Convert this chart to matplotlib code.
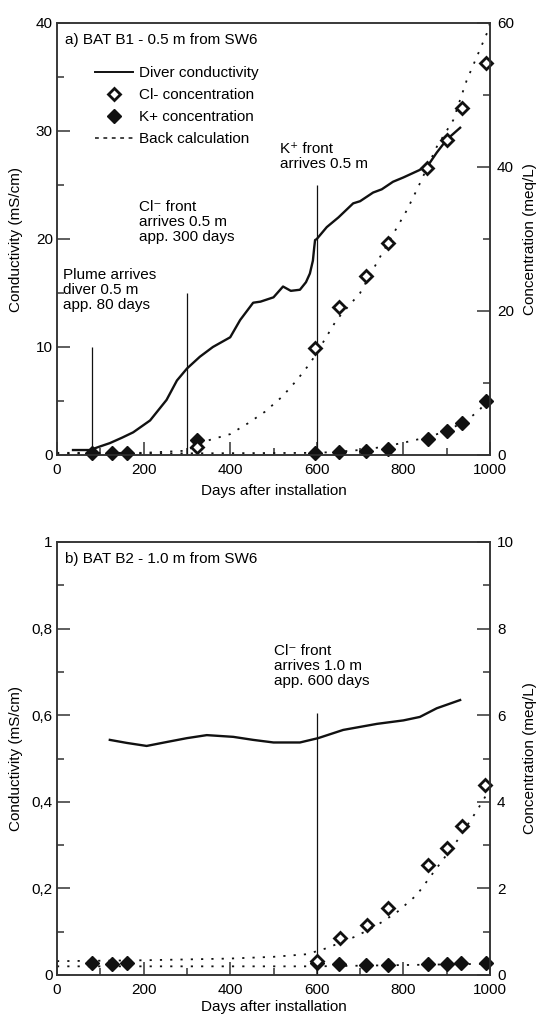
import matplotlib
matplotlib.use("Agg")
import matplotlib.pyplot as plt
from matplotlib.lines import Line2D
from matplotlib.ticker import MultipleLocator, FuncFormatter

plt.rcParams['font.family'] = ['Liberation Sans', 'DejaVu Sans']
plt.rcParams['font.size'] = 11

# ---- panel a) BAT B1 - 0.5 m ----
a_cond_days = [37, 60, 76, 100, 122, 150, 176, 215, 253, 277, 300, 330, 360, 400, 423, 453,
               470, 485, 500, 522, 540, 561, 575, 584, 591, 594, 596, 600, 623, 650, 684, 700,
               730, 750, 776, 800, 838, 860, 877, 900, 931]
a_cond = [0.46, 0.46, 0.46, 0.8, 1.1, 1.6, 2.1, 3.2, 5.1, 6.9, 8.0, 9.1, 10.0, 10.9, 12.5, 14.1,
          14.2, 14.4, 14.6, 15.6, 15.2, 15.3, 16.0, 16.8, 18.0, 19.2, 19.9, 20.0, 21.1, 22.0, 23.3, 23.5,
          24.3, 24.6, 25.3, 25.7, 26.4, 27.0, 28.0, 29.2, 30.3]

a_cl_days = [323, 596, 651, 714, 765, 855, 900, 935, 991]
a_cl = [1.1, 14.9, 20.6, 24.9, 29.4, 39.8, 43.7, 48.2, 54.4]

a_k_days = [80, 127, 161, 323, 596, 651, 714, 765, 857, 900, 935, 991]
a_k = [0.3, 0.3, 0.3, 2.1, 0.3, 0.4, 0.6, 0.9, 2.2, 3.3, 4.4, 7.5]

a_clbc_days = [0, 100, 200, 300, 330, 400, 441, 480, 520, 554, 584, 600, 646, 700, 746, 808,
               834, 877, 915, 946, 993, 1000]
a_clbc = [0.3, 0.3, 0.3, 0.6, 1.7, 2.9, 4.4, 6.0, 8.1, 10.4, 12.7, 14.2, 18.8, 22.5, 27.5, 34,
          37.2, 42.8, 46.5, 52, 58.6, 60]

a_kbc_days = [0, 200, 400, 600, 650, 700, 750, 800, 850, 900, 950, 975, 1000]
a_kbc = [0.2, 0.2, 0.25, 0.3, 0.45, 0.7, 1.1, 1.7, 2.4, 3.3, 5.0, 6.2, 8.0]

a_marks_days = [80, 300, 600]
a_marks_top = [10, 15, 25]

# ---- panel b) BAT B2 - 1.0 m ----
b_cond_days = [122, 161, 207, 253, 300, 346, 407, 453, 500, 561, 603, 661, 700, 739, 800, 838, 877, 931]
b_cond = [0.543, 0.536, 0.529, 0.538, 0.547, 0.554, 0.55, 0.543, 0.537, 0.537, 0.547, 0.566,
          0.573, 0.58, 0.588, 0.596, 0.616, 0.635]

b_cl_days = [600, 653, 716, 765, 857, 900, 935, 988]
b_cl = [0.33, 0.85, 1.15, 1.55, 2.54, 2.93, 3.44, 4.39]

b_k_days = [80, 127, 161, 600, 651, 714, 765, 857, 900, 933, 991]
b_k = [0.28, 0.26, 0.28, 0.28, 0.25, 0.22, 0.22, 0.25, 0.25, 0.28, 0.27]

b_clbc_days = [0, 200, 400, 500, 577, 623, 692, 739, 785, 831, 868, 924, 970, 1000]
b_clbc = [0.32, 0.34, 0.38, 0.42, 0.48, 0.62, 0.9, 1.15, 1.45, 1.85, 2.35, 3.1, 3.8, 4.3]

b_kbc_days = [0, 600, 1000]
b_kbc = [0.2, 0.2, 0.26]

b_marks_days = [600]
b_marks_top = [0.605]

ink = '#111111'
dot = (0, (1.2, 4.5))
fs = 11
W, H = 537, 1016

fig = plt.figure(figsize=(W / 100, H / 100), dpi=100)


def style_axes(ax, ax2, ymax, ymaj, ymin, y2max, y2maj, y2min, yfmt):
    ax.set_xlim(0, 1000)
    ax.set_ylim(0, ymax)
    ax2.set_ylim(0, y2max)
    ax.xaxis.set_major_locator(MultipleLocator(200))
    ax.xaxis.set_minor_locator(MultipleLocator(100))
    ax.yaxis.set_major_locator(MultipleLocator(ymaj))
    ax.yaxis.set_minor_locator(MultipleLocator(ymin))
    ax2.yaxis.set_major_locator(MultipleLocator(y2maj))
    ax2.yaxis.set_minor_locator(MultipleLocator(y2min))
    if yfmt is not None:
        ax.yaxis.set_major_formatter(FuncFormatter(yfmt))
    for a in (ax, ax2):
        for s in a.spines.values():
            s.set_linewidth(1.1)
            s.set_color('#333333')
    ax.tick_params(axis='both', which='both', direction='in', width=1.1, color='#333333',
                   top=False, right=False, labelsize=fs)
    ax.tick_params(which='major', length=9.5)
    ax.tick_params(which='minor', length=5)
    ax.tick_params(axis='y', pad=3)
    ax.tick_params(axis='x', pad=6)
    ax2.tick_params(axis='y', which='both', direction='in', width=1.1, color='#333333', labelsize=fs, pad=5)
    ax2.tick_params(which='major', length=9.5)
    ax2.tick_params(which='minor', length=5)
    ax.set_xlabel('Days after installation', fontsize=fs)
    ax.set_ylabel('Conductivity (mS/cm)', fontsize=fs)
    ax2.set_ylabel('Concentration (meq/L)', fontsize=fs)
    ax.yaxis.set_label_coords(-0.079, 0.5)
    ax2.yaxis.set_label_coords(1.076, 0.5)


def comma(v, pos):
    if abs(v - round(v)) < 1e-9:
        return '%d' % round(v)
    return ('%.1f' % v).replace('.', ',')


# panel a
ax1 = fig.add_axes([57 / W, 1 - 455 / H, 433 / W, 432 / H])
ax2 = ax1.twinx()
style_axes(ax1, ax2, 40, 10, 5, 60, 20, 10, None)
ax1.xaxis.set_label_coords(0.5, -0.066)

ax1.vlines(a_marks_days, 0, a_marks_top, color=ink, lw=0.9)
ax1.plot(a_cond_days, a_cond, color=ink, lw=1.7)
ax2.plot(a_clbc_days, a_clbc, color=ink, lw=1.3, ls=dot)
ax2.plot(a_kbc_days, a_kbc, color=ink, lw=1.3, ls=dot)
ax2.plot(a_k_days, a_k, ls='none', marker='D', ms=7.5, color=ink, clip_on=False)
ax2.plot(a_cl_days, a_cl, ls='none', marker='D', ms=6.5, mfc='white', mec=ink, mew=2, clip_on=False)

ax1.text(0.018, 0.977, 'a) BAT B1 - 0.5 m from SW6', transform=ax1.transAxes, ha='left', va='top', fontsize=fs)
ax1.text(14, 17.3, 'Plume arrives\ndiver 0.5 m\napp. 80 days', ha='left', va='top', fontsize=fs, linespacing=1.1)
ax1.text(190, 23.6, 'Cl\u207b front\narrives 0.5 m\napp. 300 days', ha='left', va='top', fontsize=fs, linespacing=1.1)
ax1.text(515, 29.0, 'K\u207a front\narrives 0.5 m', ha='left', va='top', fontsize=fs, linespacing=1.1)

handles = [
    Line2D([], [], color=ink, lw=1.4),
    Line2D([], [], ls='none', marker='D', ms=6.5, mfc='white', mec=ink, mew=2),
    Line2D([], [], ls='none', marker='D', ms=7.5, color=ink),
    Line2D([], [], color=ink, lw=1.1, ls=(0, (2.5, 3))),
]
labels = ['Diver conductivity', 'Cl- concentration', 'K+ concentration', 'Back calculation']
ax2.legend(handles, labels, loc='upper left', bbox_to_anchor=(0.088, 0.90), frameon=False,
           fontsize=fs, handlelength=2.5, handletextpad=0.35, labelspacing=0.52,
           borderpad=0, borderaxespad=0)

# panel b
ax3 = fig.add_axes([57 / W, 1 - 975 / H, 433 / W, 433 / H])
ax4 = ax3.twinx()
style_axes(ax3, ax4, 1, 0.2, 0.1, 10, 2, 1, comma)
ax3.xaxis.set_label_coords(0.5, -0.058)

ax3.vlines(b_marks_days, 0, b_marks_top, color=ink, lw=0.9)
ax3.plot(b_cond_days, b_cond, color=ink, lw=1.7)
ax4.plot(b_clbc_days, b_clbc, color=ink, lw=1.3, ls=dot)
ax4.plot(b_kbc_days, b_kbc, color=ink, lw=1.3, ls=dot)
ax4.plot(b_k_days, b_k, ls='none', marker='D', ms=7.5, color=ink, clip_on=False)
ax4.plot(b_cl_days, b_cl, ls='none', marker='D', ms=6.5, mfc='white', mec=ink, mew=2, clip_on=False)

ax3.text(0.018, 0.977, 'b) BAT B2 - 1.0 m from SW6', transform=ax3.transAxes, ha='left', va='top', fontsize=fs)
ax3.text(501, 0.765, 'Cl\u207b front\narrives 1.0 m\napp. 600 days', ha='left', va='top', fontsize=fs, linespacing=1.1)

fig.savefig('out.png', dpi=100)
